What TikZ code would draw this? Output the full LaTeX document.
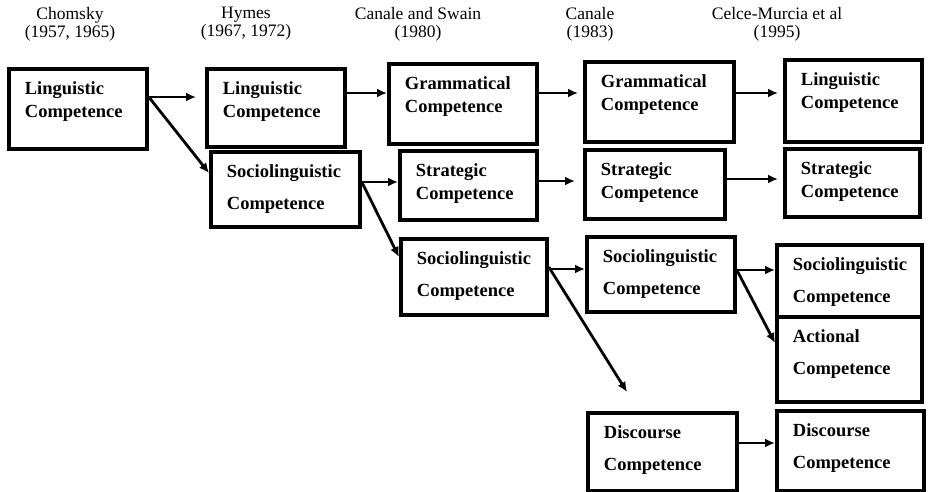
\documentclass[tikz,border=0pt]{standalone}
\usepackage{fontspec}
\setmainfont{Liberation Serif}
\usetikzlibrary{arrows.meta, calc}

\begin{document}
\begin{tikzpicture}[x=1pt, y=-1pt]
    \tikzset{
        comp/.style={rectangle, draw, line width=3.8pt, anchor=north west,
                     inner xsep=16pt, inner ysep=0pt, align=left, text height=26pt,
                     font=\fontsize{18.5}{22.5}\selectfont\bfseries},
        compwide/.style={comp, font=\fontsize{18.5}{32}\selectfont\bfseries},
        head/.style={align=center, font=\fontsize{17.5}{18}\selectfont},
        arrow/.style={line width=2.8pt, -{Latex[length=10pt, width=9pt]}}
    }
    \useasboundingbox (0,0) rectangle (928,491);
    \node[head] (chomsky) at (70,24)  {Chomsky\\(1957, 1965)};
    \node[head] (hymes)   at (246,24) {Hymes\\(1967, 1972)};
    \node[head] (swain)   at (418,24) {Canale and Swain\\(1980)};
    \node[head] (canale)  at (590,24) {Canale\\(1983)};
    \node[head] (celce)   at (777,24) {Celce-Murcia et al\\(1995)};
    \node[comp, text width=106pt, text depth=54pt]     (chom)  at (7,67)    {Linguistic\\Competence};
    \node[comp, text width=106pt, text depth=52pt]     (hymL)  at (205,67)  {Linguistic\\Competence};
    \node[compwide, text width=117pt, text depth=49pt] (hymS)  at (209,150) {Sociolinguistic\\Competence};
    \node[comp, text width=116pt, text depth=54pt]     (csG)   at (387,62)  {Grammatical\\Competence};
    \node[comp, text width=105pt, text depth=43pt]     (csS)   at (398,149) {Strategic\\Competence};
    \node[compwide, text width=114pt, text depth=50pt] (csSo)  at (399,237) {Sociolinguistic\\Competence};
    \node[comp, text width=117pt, text depth=54pt]     (canG)  at (583,60)  {Grammatical\\Competence};
    \node[comp, text width=108pt, text depth=43pt]     (canS)  at (583,148) {Strategic\\Competence};
    \node[compwide, text width=116pt, text depth=49pt] (canSo) at (585,235) {Sociolinguistic\\Competence};
    \node[compwide, text width=117pt, text depth=52pt] (canD)  at (586,411) {Discourse\\Competence};
    \node[comp, text width=105pt, text depth=56pt]     (ccL)   at (783,58)  {Linguistic\\Competence};
    \node[comp, text width=103pt, text depth=42pt]     (ccS)   at (783,147) {Strategic\\Competence};
    \node[compwide, text width=113pt, text depth=46pt] (ccSo)  at (775,243) {Sociolinguistic\\Competence};
    \node[compwide, text width=113pt, text depth=59pt] (ccA)   at (775,315) {Actional\\Competence};
    \node[compwide, text width=115pt, text depth=54pt] (ccD)   at (775,409) {Discourse\\Competence};
    \coordinate (dtip) at ($(canD.north west)+(41,-19)$);
    \draw[arrow] ($(chom.north east)+(0,30)$)  -- ($(hymL.north west)+(-9,30)$);
    \draw[arrow] ($(chom.north east)+(0,30)$)  -- ($(hymS.north west)+(0,23)$);
    \draw[arrow] ($(hymL.north east)+(0,26)$)  -- ($(csG.north west)+(0,31)$);
    \draw[arrow] ($(hymS.north east)+(0,32)$)  -- ($(csS.north west)+(0,33)$);
    \draw[arrow] ($(hymS.north east)+(0,32)$)  -- ($(csSo.north west)+(0,20)$);
    \draw[arrow] ($(csG.north east)+(0,31)$)   -- ($(canG.north west)+(-5,33)$);
    \draw[arrow] ($(csS.north east)+(0,32)$)   -- ($(canS.north west)+(-8,33)$);
    \draw[arrow] ($(csSo.north east)+(0,32)$)  -- ($(canSo.north west)+(0,34)$);
    \draw[arrow] ($(csSo.north east)+(0,30)$)  -- (dtip);
    \draw[arrow] ($(canG.north east)+(0,33)$)  -- ($(ccL.north west)+(-5,35)$);
    \draw[arrow] ($(canS.north east)+(0,31)$)  -- ($(ccS.north west)+(-5,32)$);
    \draw[arrow] ($(canSo.north east)+(0,35)$) -- ($(ccSo.north west)+(0,27)$);
    \draw[arrow] ($(canSo.north east)+(0,35)$) -- ($(ccA.north west)+(0,28)$);
    \draw[arrow] ($(canD.north east)+(0,32)$)  -- ($(ccD.north west)+(0,34)$);
\end{tikzpicture}
\end{document}
